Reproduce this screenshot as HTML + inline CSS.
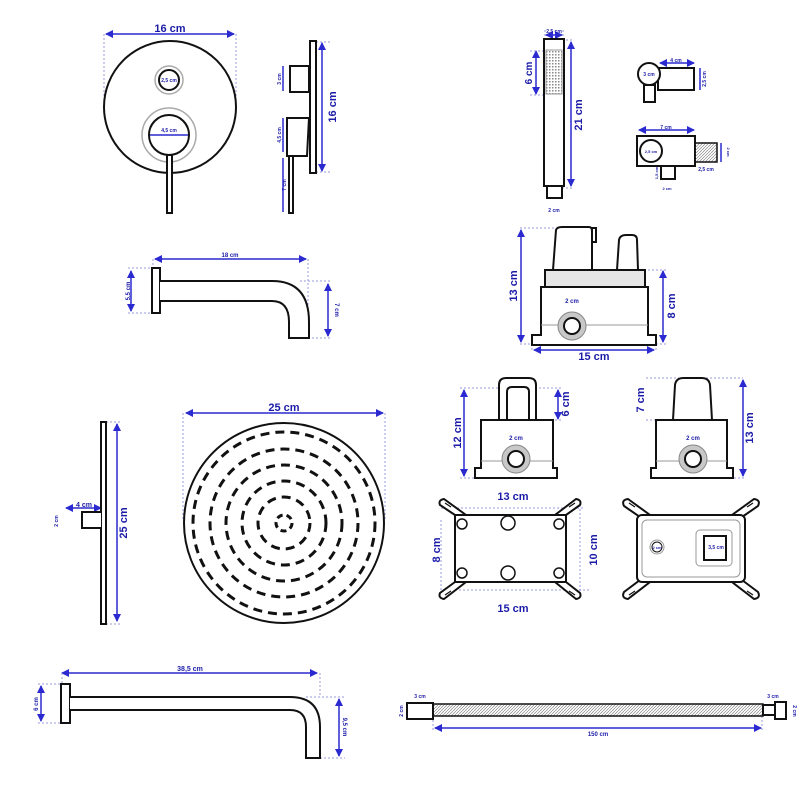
<!DOCTYPE html><html><head><style>body{margin:0;background:#fff}svg{display:block}
text{font-family:"Liberation Sans",sans-serif;font-weight:bold;fill:#1c1ca8}
.o{fill:#fff;stroke:#111;stroke-width:2}.d{stroke:#2a2ad0;stroke-width:1.5;fill:none}.g{stroke:#9999dd;stroke-width:1;stroke-dasharray:2 2;fill:none}</style></head><body>
<svg width="800" height="800" viewBox="0 0 800 800" xmlns="http://www.w3.org/2000/svg">
<defs><marker id="a" markerWidth="8" markerHeight="8" refX="7" refY="4" orient="auto-start-reverse" markerUnits="userSpaceOnUse"><path d="M0,0 L8,4 L0,8z" fill="#2a2ad0"/></marker>
<pattern id="h" width="3" height="3" patternUnits="userSpaceOnUse"><path d="M0,3 L3,0" stroke="#888" stroke-width="0.7"/></pattern>
<pattern id="sq" width="3" height="3" patternUnits="userSpaceOnUse"><rect width="1.5" height="1.5" fill="#888"/></pattern></defs>
<g marker-start="url(#a)" marker-end="url(#a)">
<line class="d" x1="106" y1="34" x2="234" y2="34"/>
<line class="d" x1="322" y1="43" x2="322" y2="171"/>
<line class="d" x1="546" y1="35" x2="562" y2="35"/>
<line class="d" x1="571" y1="42" x2="571" y2="186"/>
<line class="d" x1="536" y1="51" x2="536" y2="94"/>
<line class="d" x1="660" y1="63" x2="694" y2="63"/>
<line class="d" x1="639" y1="130" x2="694" y2="130"/>
<line class="d" x1="521" y1="230" x2="521" y2="342"/>
<line class="d" x1="663" y1="271" x2="663" y2="342"/>
<line class="d" x1="534" y1="350" x2="654" y2="350"/>
<line class="d" x1="155" y1="259" x2="306" y2="259"/>
<line class="d" x1="131" y1="271" x2="131" y2="311"/>
<line class="d" x1="328" y1="284" x2="328" y2="336"/>
<line class="d" x1="464" y1="390" x2="464" y2="476"/>
<line class="d" x1="558" y1="390" x2="558" y2="419"/>
<line class="d" x1="743" y1="380" x2="743" y2="476"/>
<line class="d" x1="186" y1="413" x2="383" y2="413"/>
<line class="d" x1="117" y1="424" x2="117" y2="621"/>
<line class="d" x1="66" y1="508" x2="101" y2="508"/>
<line class="d" x1="62" y1="673" x2="317" y2="673"/>
<line class="d" x1="41" y1="686" x2="41" y2="721"/>
<line class="d" x1="339" y1="699" x2="339" y2="756"/>
<line class="d" x1="435" y1="728" x2="761" y2="728"/>
</g>
<g class="g">
<path d="M104,34V110M236,34V110M312,42H330M312,172H330M545,30V40M563,30V40M562,40H574M562,188H574M530,51H546M530,95H546M520,228H592M520,344H535M648,270H667M648,344H667M532,344V352M656,344V352M153,259V268M308,259V338M128,268H156M128,313H156M300,281H332M300,338H332M460,388H500M460,478H480M535,388H562M535,420H562M646,378H743M646,420H672M730,478H745M183,413V520M385,413V520M102,422H120M102,624H120M62,673V684M320,673V697M38,684H62M38,723H62M306,697H345M320,758H345M433,716V730M762,716V730M441,508H584M455,590H590M441,520V598M580,505V598"/>
</g>
<circle class="o" cx="170" cy="107" r="66"/>
<circle cx="169" cy="80" r="14" fill="#fff" stroke="#aaa" stroke-width="1.5"/>
<circle class="o" cx="169" cy="80" r="10"/>
<circle cx="169" cy="135" r="27" fill="#fff" stroke="#aaa" stroke-width="1.5"/>
<circle class="o" cx="169" cy="135" r="20"/>
<rect class="o" x="167" y="155" width="5" height="58"/>
<line class="d" x1="150" y1="135" x2="188" y2="135" stroke-width="1"/>
<text x="170" y="32" font-size="11" text-anchor="middle">16 cm</text>
<text x="169" y="82" font-size="5" text-anchor="middle">2,5 cm</text>
<text x="169" y="132" font-size="5" text-anchor="middle">4,5 cm</text>
<rect class="o" x="310" y="41" width="6" height="132"/>
<path class="o" d="M290,66H309V92H290Z"/>
<path class="o" d="M287,118H309L307,156H287Z"/>
<rect class="o" x="289" y="156" width="4" height="57"/>
<line class="d" x1="283" y1="66" x2="283" y2="91"/><line class="d" x1="283" y1="118" x2="283" y2="152"/><line class="d" x1="283" y1="158" x2="283" y2="212"/>
<text transform="translate(336,107) rotate(-90)" font-size="11" text-anchor="middle">16 cm</text>
<text transform="translate(281,79) rotate(-90)" font-size="5" text-anchor="middle">3 cm</text>
<text transform="translate(281,135) rotate(-90)" font-size="5" text-anchor="middle">4,5 cm</text>
<text transform="translate(286,185) rotate(-90)" font-size="5" text-anchor="middle">7 cm</text>
<rect class="o" x="544" y="39" width="20" height="147"/>
<rect x="546" y="50" width="16" height="44" fill="url(#sq)" stroke="#999"/>
<rect class="o" x="547" y="186" width="15" height="12" stroke-width="1.5"/>
<text x="554" y="33" font-size="5" text-anchor="middle">2,5 cm</text>
<text x="554" y="212" font-size="5" text-anchor="middle">2 cm</text>
<text transform="translate(582,115) rotate(-90)" font-size="11" text-anchor="middle">21 cm</text>
<text transform="translate(532,73) rotate(-90)" font-size="10" text-anchor="middle">6 cm</text>
<rect class="o" x="644" y="85" width="11" height="17" stroke-width="1.5"/>
<path class="o" d="M658,68H694V90H658Z" stroke-width="1.5"/>
<circle class="o" cx="649" cy="74" r="11"/>
<text x="649" y="76" font-size="5" text-anchor="middle">3 cm</text>
<text x="676" y="62" font-size="5" text-anchor="middle">4 cm</text>
<text transform="translate(706,79) rotate(-90)" font-size="5" text-anchor="middle">2,5 cm</text>
<line class="d" x1="700" y1="68" x2="700" y2="90"/>
<rect class="o" x="637" y="136" width="58" height="30" stroke-width="1.5"/>
<rect x="695" y="143" width="22" height="19" fill="url(#h)" stroke="#111" stroke-width="1.5"/>
<rect class="o" x="661" y="166" width="14" height="13" stroke-width="1.5"/>
<circle class="o" cx="651" cy="151" r="11"/>
<text x="651" y="153" font-size="4" text-anchor="middle">2,5 cm</text>
<text x="666" y="129" font-size="5" text-anchor="middle">7 cm</text>
<text x="706" y="171" font-size="5" text-anchor="middle">2,5 cm</text>
<text x="667" y="190" font-size="4" text-anchor="middle">2 cm</text>
<text transform="translate(658,173) rotate(-90)" font-size="4" text-anchor="middle">1,5 cm</text>
<line class="d" x1="721" y1="143" x2="721" y2="162" stroke-width="1"/>
<text transform="translate(727,152) rotate(90)" font-size="4" text-anchor="middle">2 cm</text>
<path class="o" d="M553,270L556,230Q557,227 562,227H589Q592,227 592,231V270Z"/>
<rect class="o" x="592" y="228" width="4" height="14" stroke-width="1.5"/>
<path class="o" d="M617,270L619,240Q620,235 626,235H632Q637,235 637,240L638,270Z"/>
<rect x="545" y="270" width="100" height="17" fill="#e6e6e6" stroke="#111" stroke-width="2"/>
<path class="o" d="M541,287H648V335H656V345H532V335H541Z"/>
<line x1="541" y1="325" x2="648" y2="325" stroke="#999"/>
<circle cx="572" cy="326" r="14" fill="#c8c8c8" stroke="#888"/><circle class="o" cx="572" cy="326" r="8"/>
<text x="572" y="303" font-size="6" text-anchor="middle">2 cm</text>
<text transform="translate(517,286) rotate(-90)" font-size="11" text-anchor="middle">13 cm</text>
<text transform="translate(675,306) rotate(-90)" font-size="11" text-anchor="middle">8 cm</text>
<text x="594" y="360" font-size="11" text-anchor="middle">15 cm</text>
<rect class="o" x="152" y="268" width="8" height="45"/>
<path class="o" d="M160,281H272Q309,281 309,322V338H289V322Q289,301 272,301H160"/>
<text x="230" y="257" font-size="6" text-anchor="middle">18 cm</text>
<text transform="translate(130,291) rotate(-90)" font-size="6" text-anchor="middle">5,5 cm</text>
<text transform="translate(335,310) rotate(90)" font-size="6" text-anchor="middle">7 cm</text>
<path class="o" d="M499,420V385Q499,378 506,378H529Q536,378 536,385V420M507,420V392Q507,387 512,387H524Q529,387 529,392V420"/>
<path class="o" d="M481,420H553V468H557V478H475V468H481Z"/>
<line x1="481" y1="461" x2="553" y2="461" stroke="#999"/>
<circle cx="516" cy="459" r="14" fill="#c8c8c8" stroke="#888"/><circle class="o" cx="516" cy="459" r="8"/>
<text x="516" y="440" font-size="6" text-anchor="middle">2 cm</text>
<text transform="translate(461,433) rotate(-90)" font-size="11" text-anchor="middle">12 cm</text>
<text transform="translate(569,404) rotate(-90)" font-size="11" text-anchor="middle">6 cm</text>
<path class="o" d="M673,420L675,385Q676,378 683,378H702Q709,378 710,385L712,420"/>
<path class="o" d="M656,420H727V468H733V478H651V468H656Z"/>
<line x1="656" y1="461" x2="727" y2="461" stroke="#999"/>
<circle cx="693" cy="459" r="14" fill="#c8c8c8" stroke="#888"/><circle class="o" cx="693" cy="459" r="8"/>
<text x="693" y="440" font-size="6" text-anchor="middle">2 cm</text>
<text transform="translate(644,400) rotate(-90)" font-size="11" text-anchor="middle">7 cm</text>
<text transform="translate(753,428) rotate(-90)" font-size="11" text-anchor="middle">13 cm</text>
<g class="o">
<path d="M455,515L440,505Q438,500 444,499L466,515ZM566,515L580,505Q582,500 576,499L555,515ZM455,582L440,593Q438,598 444,599L466,582ZM566,582L580,593Q582,598 576,599L555,582Z"/>
<rect x="455" y="515" width="111" height="67"/>
</g>
<g stroke="#111" stroke-width="1.2"><path d="M445,503L451,507M575,503L569,507M445,595L451,591M575,595L569,591M629,503L635,507M753,503L747,507M629,595L635,591M753,595L747,591"/></g>
<g fill="#fff" stroke="#111" stroke-width="1.5"><circle cx="462" cy="524" r="5"/><circle cx="508" cy="523" r="7"/><circle cx="559" cy="524" r="5"/><circle cx="462" cy="573" r="5"/><circle cx="508" cy="573" r="7"/><circle cx="559" cy="573" r="5"/></g>
<text x="513" y="500" font-size="11" text-anchor="middle">13 cm</text>
<text x="513" y="612" font-size="11" text-anchor="middle">15 cm</text>
<text transform="translate(440,550) rotate(-90)" font-size="11" text-anchor="middle">8 cm</text>
<text transform="translate(597,550) rotate(-90)" font-size="11" text-anchor="middle">10 cm</text>
<g class="o">
<path d="M640,517L624,506Q621,500 628,499L650,515ZM742,517L758,506Q761,500 754,499L732,515ZM640,580L624,592Q621,598 628,599L650,582ZM742,580L758,592Q761,598 754,599L732,582Z"/>
<rect x="637" y="515" width="108" height="67" rx="5"/>
</g>
<g stroke="#111" stroke-width="1.2"><path d="M629,503L635,507M753,503L747,507M629,595L635,591M753,595L747,591"/></g>
<rect x="642" y="520" width="98" height="57" rx="5" fill="none" stroke="#999"/>
<rect x="696" y="530" width="36" height="36" rx="4" fill="none" stroke="#999"/>
<rect class="o" x="704" y="536" width="22" height="24" stroke-width="1.5"/>
<circle cx="657" cy="547" r="7" fill="none" stroke="#999"/><circle cx="657" cy="547" r="5" fill="#fff" stroke="#111"/>
<text x="657" y="549" font-size="4" text-anchor="middle">2 cm</text>
<text x="716" y="549" font-size="5" text-anchor="middle">3,5 cm</text>
<rect class="o" x="101" y="422" width="5" height="202" stroke-width="1.5"/>
<path class="o" d="M101,512H82V528H101" stroke-width="1.5"/>
<text x="84" y="507" font-size="7" text-anchor="middle">4 cm</text>
<text transform="translate(58,521) rotate(-90)" font-size="5" text-anchor="middle">2 cm</text>
<text transform="translate(127,523) rotate(-90)" font-size="11" text-anchor="middle">25 cm</text>
<circle cx="284" cy="523" r="100" fill="#fff" stroke="#111" stroke-width="2"/>
<g fill="none" stroke="#111" stroke-width="3" stroke-dasharray="9 6">
<circle cx="284" cy="523" r="91"/><circle cx="284" cy="523" r="74"/><circle cx="284" cy="523" r="58"/><circle cx="284" cy="523" r="42"/><circle cx="284" cy="523" r="26"/><circle cx="284" cy="523" r="8" stroke-dasharray="6 4"/>
</g>
<text x="284" y="411" font-size="11" text-anchor="middle">25 cm</text>
<rect class="o" x="61" y="684" width="9" height="39" stroke-width="1.5"/>
<path class="o" d="M70,697H290Q320,697 320,727V758H306V727Q306,710 290,710H70" stroke-width="1.5"/>
<text x="190" y="671" font-size="7" text-anchor="middle">38,5 cm</text>
<text transform="translate(38,704) rotate(-90)" font-size="6" text-anchor="middle">6 cm</text>
<text transform="translate(343,727) rotate(90)" font-size="6" text-anchor="middle">9,5 cm</text>
<rect x="433" y="704" width="330" height="12" fill="url(#h)" stroke="#111" stroke-width="1.5"/>
<rect class="o" x="407" y="703" width="26" height="16" stroke-width="1.5"/>
<rect class="o" x="763" y="705" width="12" height="10" stroke-width="1.5"/>
<rect class="o" x="775" y="702" width="11" height="17" stroke-width="1.5"/>
<text x="420" y="698" font-size="5" text-anchor="middle">3 cm</text>
<text x="773" y="698" font-size="5" text-anchor="middle">3 cm</text>
<text transform="translate(403,711) rotate(-90)" font-size="5" text-anchor="middle">2 cm</text>
<text transform="translate(793,711) rotate(90)" font-size="5" text-anchor="middle">2 cm</text>
<text x="598" y="736" font-size="6" text-anchor="middle">150 cm</text>
</svg></body></html>
